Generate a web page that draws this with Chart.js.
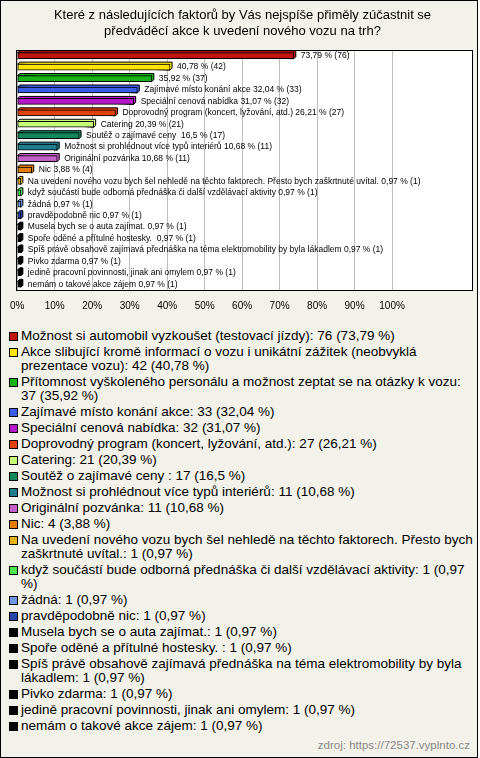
<!DOCTYPE html>
<html>
<head>
<meta charset="utf-8">
<script src="https://cdn.jsdelivr.net/npm/chart.js@4/dist/chart.umd.min.js"></script>
<style>
  body { margin: 0; background: #fff; }
  #wrap {
    position: relative; width: 478px; height: 758px; box-sizing: border-box;
    border: 1px solid #000; background: #f3f2ea; overflow: hidden;
    font-family: "Liberation Sans", Arial, sans-serif;
  }
  #chart { position: absolute; left: -1px; top: -1px; }
  #legend { position: absolute; left: 8px; top: 328px; width: 467px; font-size: 13.5px; line-height: 14px; color: #000; }
  .item { position: relative; padding-left: 12px; margin-bottom: 2px; }
  .sq { position: absolute; left: 0; top: 3px; width: 9px; height: 9px; box-sizing: border-box; border: 1px solid #000; }
  #src { position: absolute; right: 7px; top: 738px; font-size: 11.5px; color: #888; }
</style>
</head>
<body>
<div id="wrap">
  <canvas id="chart" width="480" height="324"></canvas>
  <div id="legend"></div>
  <div id="src">zdroj: https://72537.vyplnto.cz</div>
</div>
<script>
const titleLines = [
  'Které z následujících faktorů by Vás nejspíše přiměly zúčastnit se',
  'předváděcí akce k uvedení nového vozu na trh?'
];

const categories = [
  'Možnost si automobil vyzkoušet (testovací jízdy)',
  'Akce slibující kromě informací o vozu i unikátní zážitek (neobvyklá prezentace vozu)',
  'Přítomnost vyškoleného personálu a možnost zeptat se na otázky k vozu',
  'Zajímavé místo konání akce',
  'Speciální cenová nabídka',
  'Doprovodný program (koncert, lyžování, atd.)',
  'Catering',
  'Soutěž o zajímavé ceny ',
  'Možnost si prohlédnout více typů interiérů',
  'Originální pozvánka',
  'Nic',
  'Na uvedení nového vozu bych šel nehledě na těchto faktorech. Přesto bych zaškrtnuté uvítal.',
  'když součástí bude odborná přednáška či další vzdělávací aktivity',
  'žádná',
  'pravděpodobně nic',
  'Musela bych se o auta zajímat.',
  'Spoře oděné a přítulné hostesky. ',
  'Spíš právě obsahově zajímavá přednáška na téma elektromobility by byla lákadlem',
  'Pivko zdarma',
  'jedině pracovní povinnosti, jinak ani omylem',
  'nemám o takové akce zájem'
];

const counts = [76, 42, 37, 33, 32, 27, 21, 17, 11, 11, 4, 1, 1, 1, 1, 1, 1, 1, 1, 1, 1];
const percents = [73.79, 40.78, 35.92, 32.04, 31.07, 26.21, 20.39, 16.5, 10.68, 10.68, 3.88,
  0.97, 0.97, 0.97, 0.97, 0.97, 0.97, 0.97, 0.97, 0.97, 0.97];

const colors = [
  '#c0150f', '#ffe600', '#19b319', '#3a5ee8', '#b317c8', '#e0420c', '#c8ff78',
  '#13875a', '#1f7d8f', '#c45ec8', '#e67c0a', '#e3b21c', '#4fe64f', '#6f96e0',
  '#2744a8', '#000000', '#000000', '#000000', '#000000', '#000000', '#000000'
];

const xTicks = [0, 10, 20, 30, 40, 50, 60, 70, 80, 90, 100];
const xMax = 121.6;
const namesOnBarFrom = 3; // first three bars only show the value

const font = '"Liberation Sans", Arial, sans-serif';
const fmt = v => String(v).replace('.', ',');

// white plot background + black frame
const frame = {
  id: 'frame',
  beforeDraw(chart) {
    const a = chart.chartArea, ctx = chart.ctx;
    ctx.save();
    ctx.fillStyle = '#fff';
    ctx.fillRect(a.left, a.top, a.right - a.left, a.bottom - a.top);
    ctx.restore();
  },
  afterDraw(chart) {
    const a = chart.chartArea, ctx = chart.ctx;
    ctx.save();
    ctx.strokeStyle = '#000';
    ctx.lineWidth = 1;
    ctx.strokeRect(Math.round(a.left) - 0.5, Math.round(a.top) + 0.5,
      Math.round(a.right - a.left), Math.round(a.bottom - a.top));
    ctx.restore();
  }
};

// fake 3d: top + right face behind each bar
const depth = {
  id: 'depth',
  beforeDatasetsDraw(chart) {
    const ctx = chart.ctx, d = 2;
    chart.getDatasetMeta(0).data.forEach((bar, i) => {
      const x0 = bar.base, x1 = bar.x;
      const yT = bar.y - bar.height / 2, yB = bar.y + bar.height / 2;
      ctx.save();
      ctx.beginPath();
      ctx.moveTo(x0, yT);
      ctx.lineTo(x0 + d, yT - d);
      ctx.lineTo(x1 + d, yT - d);
      ctx.lineTo(x1 + d, yB - d);
      ctx.lineTo(x1, yB);
      ctx.closePath();
      ctx.fillStyle = colors[i];
      ctx.fill();
      ctx.strokeStyle = '#000';
      ctx.lineWidth = 1;
      ctx.stroke();
      ctx.restore();
    });
  }
};

const barText = {
  id: 'barText',
  afterDatasetsDraw(chart) {
    const ctx = chart.ctx;
    ctx.save();
    ctx.font = '8.5px ' + font;
    ctx.fillStyle = '#000';
    ctx.textBaseline = 'middle';
    chart.getDatasetMeta(0).data.forEach((bar, i) => {
      const name = i >= namesOnBarFrom ? categories[i] + ' ' : '';
      ctx.fillText(name + fmt(percents[i]) + ' % (' + counts[i] + ')', bar.x + 7, bar.y);
    });
    ctx.restore();
  }
};

const ctx = document.getElementById('chart').getContext('2d');
const chart = new Chart(ctx, {
  type: 'bar',
  data: {
    labels: categories,
    datasets: [{
      data: percents,
      backgroundColor: colors,
      borderColor: '#000',
      borderWidth: 1,
      borderSkipped: false,
      barThickness: 6
    }]
  },
  options: {
    indexAxis: 'y',
    responsive: false,
    animation: false,
    layout: { padding: { left: 12, right: 7, top: 0, bottom: 2 } },
    plugins: {
      legend: { display: false },
      tooltip: { enabled: false },
      title: {
        display: true,
        text: titleLines,
        color: '#000',
        font: { size: 13, family: font, weight: 'normal', lineHeight: 1.23 },
        padding: { top: 7, bottom: 11 }
      }
    },
    scales: {
      x: {
        min: 0,
        max: xMax,
        afterBuildTicks: scale => { scale.ticks = xTicks.map(v => ({ value: v })); },
        ticks: {
          callback: v => v + '%',
          color: '#000',
          font: { size: 10, family: font },
          padding: 10,
          autoSkip: false,
          maxRotation: 0
        },
        grid: { color: '#bdbdbd', drawTicks: false },
        border: { display: false }
      },
      y: { display: false }
    }
  },
  plugins: [frame, depth, barText]
});

// legend with wrapping text
const legend = document.getElementById('legend');
categories.forEach((name, i) => {
  const div = document.createElement('div');
  div.className = 'item';
  const sq = document.createElement('span');
  sq.className = 'sq';
  sq.style.background = colors[i];
  div.appendChild(sq);
  div.appendChild(document.createTextNode(name + ': ' + counts[i] + ' (' + fmt(percents[i]) + ' %)'));
  legend.appendChild(div);
});
</script>
</body>
</html>
